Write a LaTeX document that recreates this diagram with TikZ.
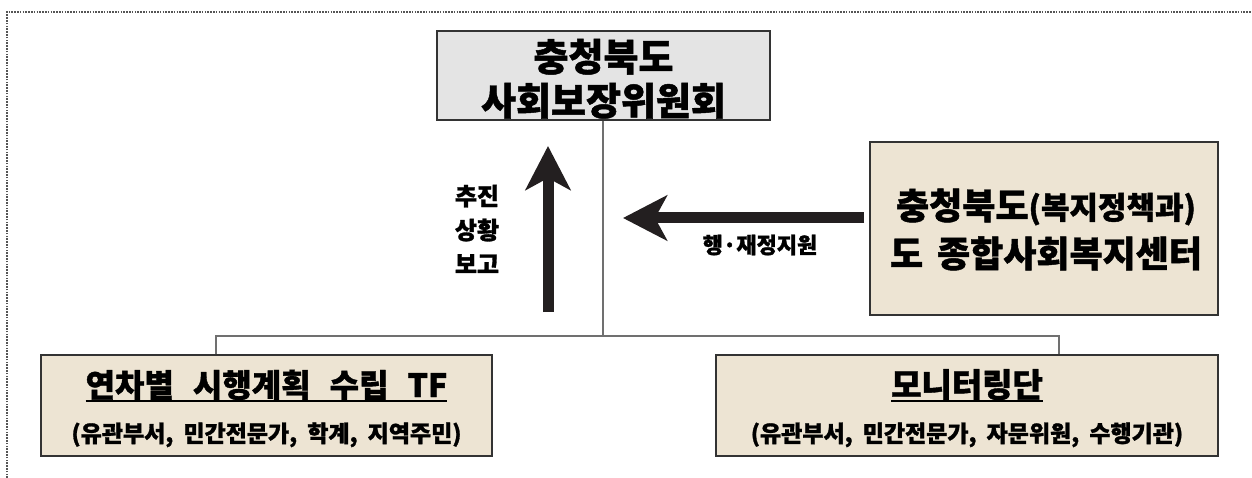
\documentclass[tikz,border=0pt]{standalone}
\usepackage{fontspec}
\setmainfont{Noto Sans CJK KR}[BoldFeatures={FakeBold=1.2}]
\usetikzlibrary{arrows.meta}
\definecolor{beige}{HTML}{EDE4D3}
\definecolor{topgray}{HTML}{E4E4E4}
\definecolor{edge}{HTML}{333333}
\definecolor{link}{HTML}{707070}
\definecolor{ink}{HTML}{231F20}
\definecolor{dotc}{HTML}{555555}
\newcommand\myul[1]{\setbox0\hbox{#1}\rlap{\rule[-5pt]{\wd0}{2pt}}\box0}
\newcommand\fsz[2]{\fontsize{#1}{#2}\selectfont\bfseries}
\begin{document}
\begin{tikzpicture}[x=1pt,y=-1pt,
  box/.style={draw=edge, line width=1.5pt, inner sep=0pt},
  txt/.style={inner sep=0pt, anchor=base, text=black},
  linkline/.style={draw=link, line width=1.2pt},
  bigarrow/.style={draw=ink, line width=11pt, -{Stealth[length=44pt,width=45pt,inset=12pt]}},
  framedot/.style={draw=dotc, line width=1.2pt, dash pattern=on 1.6pt off 1.2pt}]
\useasboundingbox (0,0) rectangle (1252,478);
\draw[framedot] (7,478) -- (7,12) -- (1252,12);

% boxes
\node[box, fill=topgray, minimum width=333pt, minimum height=89pt] (top) at (603.5,75.5) {};
\node[box, fill=beige, minimum width=348pt, minimum height=173pt] (mid) at (1044,228.5) {};
\node[box, fill=beige, minimum width=451pt, minimum height=101pt] (tf) at (266.5,405.5) {};
\node[box, fill=beige, minimum width=502pt, minimum height=101pt] (mon) at (967,405.5) {};

% texts
\node[txt, font=\fsz{38}{38}] (t1) at (603.5,71) {충청북도};
\node[txt, font=\fsz{38}{38}] (t2) at (603.5,115) {사회보장위원회};
\node[txt, font=\fsz{36}{36}] (m1) at (1046,219) {충청북도{\fsz{31}{31}(복지정책과)}};
\node[txt, font=\fsz{36}{36}] (m2) at (1046,267) {도\hspace{14pt}종합사회복지센터};
\node[txt, font=\fsz{32}{32}] (tf1) at (266.5,397) {\myul{연차별\hspace{19pt}시행계획\hspace{19pt}수립\hspace{19pt}TF}};
\node[txt, font=\fsz{23}{23}] (tf2) at (266.5,442) {(유관부서,\hspace{10pt}민간전문가,\hspace{10pt}학계,\hspace{10pt}지역주민)};
\node[txt, font=\fsz{33}{33}] (mo1) at (967,397) {\myul{모니터링단}};
\node[txt, font=\fsz{23}{23}] (mo2) at (967,442) {(유관부서,\hspace{10pt}민간전문가,\hspace{10pt}자문위원,\hspace{10pt}수행기관)};
\node[inner sep=0pt, align=center, font=\fsz{24}{34}] (rep) at (477,229) {추진\\상황\\보고};
\node[inner sep=0pt, font=\fsz{22}{22}] (sup) at (760,245) {행·재정지원};

% connectors
\coordinate (jn) at (603,336);
\coordinate (jl) at (216,336);
\coordinate (jr) at (1059,336);
\draw[linkline] (top.south -| jn) -- (jn);
\draw[linkline] (jl |- tf.north) -- (jl) -- (jr) -- (jr |- mon.north);

% big arrows
\coordinate (upS) at (548,312);
\coordinate (upE) at (548,146);
\draw[bigarrow] (upS) -- (upE);
\coordinate (lS) at (864,218);
\coordinate (lE) at (623,218);
\draw[bigarrow] (lS) -- (lE);
\end{tikzpicture}
\end{document}
